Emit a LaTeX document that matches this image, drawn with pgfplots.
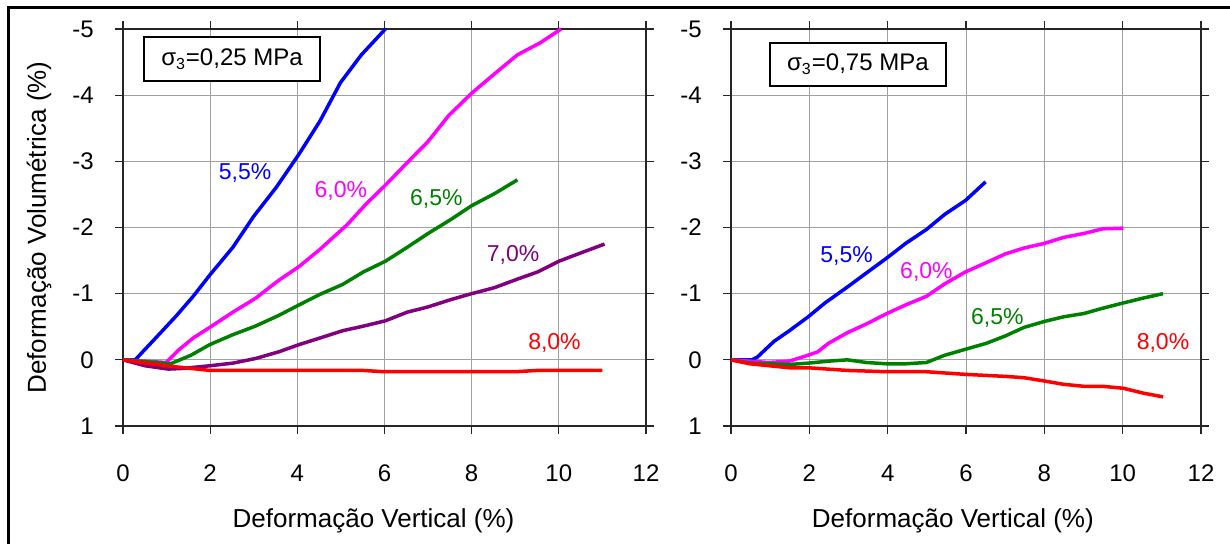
\documentclass[border=0pt]{standalone}
\usepackage{fontspec}
\setmainfont{Liberation Sans}
\usepackage{pgfplots}
\pgfplotsset{compat=1.18}
\definecolor{cBlue}{RGB}{0,0,255}
\definecolor{cMag}{RGB}{255,0,255}
\definecolor{cGreen}{RGB}{0,128,0}
\definecolor{cPurple}{RGB}{128,0,128}
\definecolor{cRed}{RGB}{255,0,0}
\definecolor{cGrid}{RGB}{160,160,160}
\newcommand{\tickfont}{\fontsize{12}{14}\selectfont}
\newcommand{\titlefont}{\fontsize{13}{15}\selectfont}
\newcommand{\curvefont}{\fontsize{11.5}{13}\selectfont}
\pgfplotsset{
  panel/.style={
    scale only axis,
    height=198.5pt,
    xmin=0, xmax=12, ymin=-5, ymax=1,
    y dir=reverse,
    xtick={0,2,4,6,8,10,12},
    xticklabels={0,2,4,6,8,10,12},
    ytick={-5,-4,-3,-2,-1,0,1},
    yticklabels={-5,-4,-3,-2,-1,0,1},
    grid=major,
    major grid style={cGrid, line width=0.5pt},
    axis line style={black!85, line width=0.9pt},
    tick align=outside,
    major tick length=4pt,
    tick style={black!85, line width=0.6pt},
    xticklabel style={font=\tickfont, anchor=center, yshift=-19.5pt, inner sep=0pt},
    yticklabel style={font=\tickfont, anchor=east, inner sep=0pt, xshift=-10.5pt},
    every axis plot/.append style={line width=1.75pt, line join=round, no marks},
    clip=false,
  }
}
\begin{document}
\begin{tikzpicture}
\path[use as bounding box] (0,0) rectangle (615pt,272pt);
\draw[line width=1.5pt] (4pt,0pt) -- (4pt,268pt) -- (615pt,268pt);

% ---------------- left panel ----------------
\begin{axis}[panel,
  at={(61.5pt,59pt)}, anchor=south west,
  width=261.5pt,
  xlabel={Deformação Vertical (\%)},
  ylabel={Deformação Volumétrica (\%)},
  xlabel style={font=\titlefont, at={(axis description cs:0.479,-0.239)}, anchor=center},
  ylabel style={font=\titlefont, at={(axis description cs:-0.1606,0.5)}, anchor=center},
]
\addplot[cBlue] coordinates {
(0,0) (0.28,0) (0.75,-0.33) (1.23,-0.67) (1.61,-0.96) (1.99,-1.28) (2.52,-1.70)
(3.0,-2.17) (3.52,-2.61) (4.04,-3.11) (4.52,-3.61) (4.99,-4.19) (5.47,-4.61) (6.02,-5.0)};
\addplot[cMag] coordinates {
(0,0) (0.99,0.04) (1.28,-0.15) (1.61,-0.33) (1.99,-0.49) (2.52,-0.72) (3.04,-0.93)
(3.57,-1.20) (4.04,-1.41) (4.52,-1.67) (5.14,-2.04) (5.57,-2.35) (6.02,-2.64)
(6.52,-2.98) (7.0,-3.30) (7.47,-3.69) (8.0,-4.03) (8.52,-4.32) (9.05,-4.61)
(9.57,-4.79) (10.05,-5.0)};
\addplot[cGreen] coordinates {
(0,0) (1.09,0.06) (1.56,-0.07) (1.99,-0.23) (2.52,-0.38) (3.04,-0.51) (3.57,-0.67)
(4.04,-0.83) (4.52,-0.99) (5.04,-1.14) (5.52,-1.33) (6.02,-1.49) (6.52,-1.70)
(7.0,-1.91) (7.52,-2.12) (8.0,-2.33) (8.52,-2.51) (9.05,-2.72)};
\addplot[cPurple] coordinates {
(0,0) (0.51,0.09) (1.04,0.14) (1.37,0.13) (1.99,0.09) (2.52,0.05) (3.04,-0.02)
(3.57,-0.12) (4.04,-0.23) (4.52,-0.33) (5.04,-0.44) (5.52,-0.51) (6.02,-0.59)
(6.52,-0.72) (7.0,-0.80) (7.52,-0.91) (8.0,-1.0) (8.52,-1.09) (9.05,-1.22)
(9.52,-1.33) (10.0,-1.49) (10.52,-1.62) (11.05,-1.75)};
\addplot[cRed] coordinates {
(0,0) (0.99,0.09) (1.99,0.16) (5.5,0.16) (6.0,0.18) (9.0,0.18) (9.5,0.16) (11.0,0.16)};
\node[font=\curvefont, text=cBlue] at (axis cs:2.8,-2.82) {5,5\%};
\node[font=\curvefont, text=cMag] at (axis cs:5.0,-2.56) {6,0\%};
\node[font=\curvefont, text=cGreen] at (axis cs:7.19,-2.43) {6,5\%};
\node[font=\curvefont, text=cPurple] at (axis cs:8.95,-1.59) {7,0\%};
\node[font=\curvefont, text=cRed] at (axis cs:9.9,-0.25) {8,0\%};
\node[draw, line width=1pt, fill=white, minimum width=88pt, minimum height=22pt,
      inner sep=0pt, font=\tickfont] at (rel axis cs:0.2084,0.9244)
      {σ\textsubscript{3}=0,25 MPa};
\end{axis}

% ---------------- right panel ----------------
\begin{axis}[panel,
  at={(365.5pt,59pt)}, anchor=south west,
  width=235pt,
  xlabel={Deformação Vertical (\%)},
  xlabel style={font=\titlefont, at={(axis description cs:0.472,-0.239)}, anchor=center},
]
\addplot[cBlue] coordinates {
(0,0) (0.53,0) (0.67,-0.04) (1.1,-0.28) (1.49,-0.44) (1.97,-0.65) (2.4,-0.86)
(2.97,-1.10) (3.45,-1.31) (3.98,-1.54) (4.46,-1.76) (4.99,-1.97) (5.46,-2.20)
(5.99,-2.41) (6.5,-2.69)};
\addplot[cMag] coordinates {
(0,0) (0.96,0.04) (1.49,0.02) (1.97,-0.07) (2.21,-0.12) (2.49,-0.25) (2.97,-0.41)
(3.45,-0.54) (3.98,-0.70) (4.46,-0.83) (4.99,-0.96) (5.46,-1.15) (5.99,-1.33)
(6.52,-1.47) (7.0,-1.60) (7.48,-1.69) (8.0,-1.76) (8.49,-1.85) (9.01,-1.91)
(9.49,-1.98) (10.02,-1.99)};
\addplot[cGreen] coordinates {
(0,0) (0.48,0.05) (1.49,0.07) (1.97,0.05) (2.49,0.02) (2.97,0) (3.45,0.04)
(3.98,0.06) (4.46,0.06) (4.99,0.04) (5.46,-0.07) (5.99,-0.16) (6.52,-0.25)
(7.0,-0.36) (7.48,-0.49) (8.0,-0.58) (8.49,-0.65) (9.01,-0.70) (9.49,-0.78)
(10.02,-0.86) (10.5,-0.93) (11.03,-1.0)};
\addplot[cRed] coordinates {
(0,0) (0.48,0.06) (1.49,0.12) (1.97,0.12) (2.97,0.16) (3.98,0.18) (4.99,0.18)
(5.99,0.22) (7.0,0.25) (7.48,0.27) (8.0,0.32) (8.49,0.37) (9.01,0.40) (9.49,0.40)
(10.02,0.43) (10.5,0.50) (11.03,0.56)};
\node[font=\curvefont, text=cBlue] at (axis cs:2.95,-1.57) {5,5\%};
\node[font=\curvefont, text=cMag] at (axis cs:4.99,-1.33) {6,0\%};
\node[font=\curvefont, text=cGreen] at (axis cs:6.8,-0.63) {6,5\%};
\node[font=\curvefont, text=cRed] at (axis cs:11.03,-0.26) {8,0\%};
\node[draw, line width=1pt, fill=white, minimum width=88pt, minimum height=21.5pt,
      inner sep=0pt, font=\tickfont] at (rel axis cs:0.270,0.9106)
      {σ\textsubscript{3}=0,75 MPa};
\end{axis}
\end{tikzpicture}
\end{document}
